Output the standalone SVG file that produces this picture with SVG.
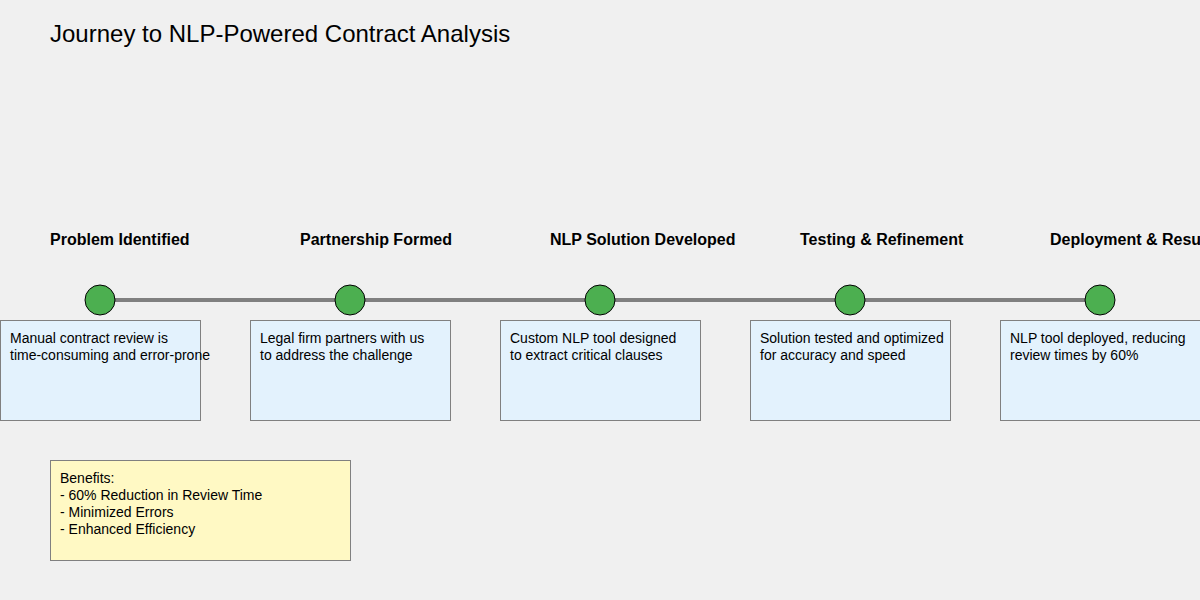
<svg xmlns="http://www.w3.org/2000/svg" width="1200" height="600" viewBox="0 0 1200 600">
<style>
text{font-family:"Liberation Sans",Arial,sans-serif;fill:#000}
.title{font-size:24px}
.label{font-size:16px;font-weight:bold}
.desc{font-size:14px}
.dot{fill:#4CAF50;stroke:#000;stroke-width:1}
.box{fill:#E3F2FD;stroke:#808080;stroke-width:1}
.ben{fill:#FFF9C4;stroke:#808080;stroke-width:1}
.line{stroke:#808080;stroke-width:4}
</style>
<rect width="1200" height="600" fill="#F0F0F0"/>
<text class="title" x="50" y="42">Journey to NLP-Powered Contract Analysis</text>
<g id="connectors">
<line class="line" x1="100" y1="300" x2="1100" y2="300"/>
</g>
<g id="node1">
<text class="label" x="50" y="245">Problem Identified</text>
<circle class="dot" cx="100" cy="300" r="15"/>
<rect class="box" x="0.5" y="320.5" width="200" height="100"/>
<text class="desc" x="10" y="343">Manual contract review is</text>
<text class="desc" x="10" y="360">time-consuming and error-prone</text>
</g>
<g id="node2">
<text class="label" x="300" y="245">Partnership Formed</text>
<circle class="dot" cx="350" cy="300" r="15"/>
<rect class="box" x="250.5" y="320.5" width="200" height="100"/>
<text class="desc" x="260" y="343">Legal firm partners with us</text>
<text class="desc" x="260" y="360">to address the challenge</text>
</g>
<g id="node3">
<text class="label" x="550" y="245">NLP Solution Developed</text>
<circle class="dot" cx="600" cy="300" r="15"/>
<rect class="box" x="500.5" y="320.5" width="200" height="100"/>
<text class="desc" x="510" y="343">Custom NLP tool designed</text>
<text class="desc" x="510" y="360">to extract critical clauses</text>
</g>
<g id="node4">
<text class="label" x="800" y="245">Testing &amp; Refinement</text>
<circle class="dot" cx="850" cy="300" r="15"/>
<rect class="box" x="750.5" y="320.5" width="200" height="100"/>
<text class="desc" x="760" y="343">Solution tested and optimized</text>
<text class="desc" x="760" y="360">for accuracy and speed</text>
</g>
<g id="node5">
<text class="label" x="1050" y="245">Deployment &amp; Results</text>
<circle class="dot" cx="1100" cy="300" r="15"/>
<rect class="box" x="1000.5" y="320.5" width="200" height="100"/>
<text class="desc" x="1010" y="343">NLP tool deployed, reducing</text>
<text class="desc" x="1010" y="360">review times by 60%</text>
</g>
<g id="benefits">
<rect class="ben" x="50.5" y="460.5" width="300" height="100"/>
<text class="desc" x="60" y="483">Benefits:</text>
<text class="desc" x="60" y="500">- 60% Reduction in Review Time</text>
<text class="desc" x="60" y="517">- Minimized Errors</text>
<text class="desc" x="60" y="534">- Enhanced Efficiency</text>
</g>
</svg>
